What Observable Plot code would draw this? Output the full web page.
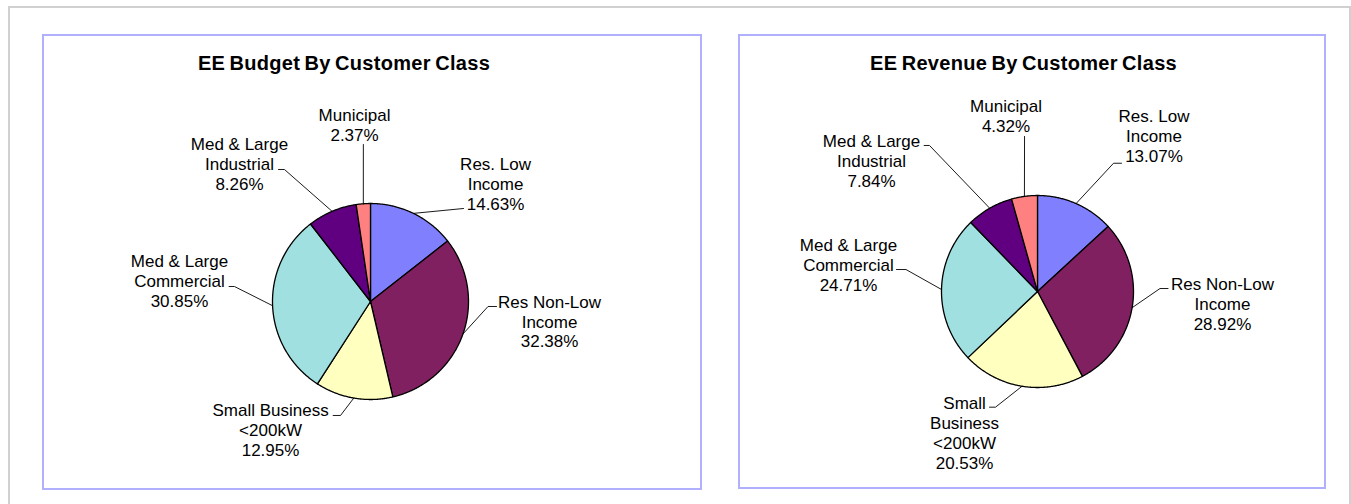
<!DOCTYPE html>
<html><head><meta charset="utf-8">
<script src="https://cdn.jsdelivr.net/npm/d3@7"></script>
<script src="https://cdn.jsdelivr.net/npm/@observablehq/plot@0.6"></script>
<style>
body{margin:0;background:#fff;width:1351px;height:504px;overflow:hidden;position:relative;font-family:Arial,"Liberation Sans",sans-serif;}
.frame{position:absolute;left:8px;top:6px;width:1343px;height:600px;border:2px solid #d0d0d0;box-sizing:border-box;}
.box{position:absolute;border:2px solid #b0b0ff;box-sizing:border-box;background:#fff;}
.title{position:absolute;width:500px;text-align:center;font-weight:bold;font-size:20px;line-height:20px;letter-spacing:0.3px;word-spacing:-1.5px;color:#000;white-space:nowrap;}
.chart{position:absolute;}
</style></head><body>
<div class="frame"></div>
<div class="box" style="left:42px;top:34px;width:660px;height:456px"></div>
<div class="box" style="left:738px;top:34px;width:588px;height:455px"></div>
<div id="c0" class="chart"></div>
<div id="c1" class="chart"></div>
<div id="t0" class="title"></div>
<div id="t1" class="title"></div>
<script>
// ---- data ----
const categories = ["Res. Low Income", "Res Non-Low Income", "Small Business <200kW", "Med & Large Commercial", "Med & Large Industrial", "Municipal"];
const budgetValues = [14.63, 32.38, 12.95, 30.85, 8.26, 2.37];
const revenueValues = [13.07, 28.92, 20.53, 24.71, 7.84, 4.32];
const titles = ["EE Budget By Customer Class", "EE Revenue By Customer Class"];

// ---- styles / layout ----
const colors = ["#8080ff", "#802060", "#ffffc0", "#a0e0e0", "#600080", "#ff8080"];
const layouts = [
  {left: 44, top: 36, width: 654, height: 451, cx: 326, cy: 265, r: 98, titleX: 344, titleBase: 70,
   wrap: [[2,1],[2,1],[2,1],[3,1],[3,1],[1]],
   labels: [[1.276,1.208],[1.827,-0.2],[-1.02,-1.312],[-1.949,0.218],[-1.337,1.412],[-0.163,1.81]],
   leaders: [[[0.949,0.949]], [[1.286,-0.051],[1.199,-0.051]], [[-0.381,-1.163],[-0.306,-1.163]],
             [[-1.443,0.153],[-1.388,0.153]], [[-0.939,1.347],[-0.878,1.347]], [[-0.073,1.602]]]},
  {left: 740, top: 36, width: 582, height: 450, cx: 297, cy: 255, r: 96, titleX: 1023.5, titleBase: 70,
   wrap: [[2,1],[2,1],[1,1,1],[3,1],[3,1],[1]],
   labels: [[1.2135,1.622],[1.927,-0.121],[-0.760,-1.465],[-1.969,0.285],[-1.729,1.361],[-0.328,1.833]],
   leaders: [[[0.875,1.336],[0.792,1.336]], [[1.360,0.031],[1.276,0.031]], [[-0.5,-1.205],[-0.4375,-1.205]],
             [[-1.469,0.229],[-1.370,0.229]], [[-1.181,1.521],[-1.125,1.521]], [[-0.135,1.615]]]}
];

function wrapText(name, counts) {
  const words = name.split(" ");
  const lines = []; let k = 0;
  for (const c of counts) { lines.push(words.slice(k, k + c).join(" ")); k += c; }
  return lines.join("\n");
}

function drawPie(values, L, target) {
  const arcs = d3.pie().sort(null).value(d => d)(values);
  const marks = [];
  arcs.forEach((p, i) => {
    const n = Math.max(2, Math.ceil((p.endAngle - p.startAngle) / (Math.PI / 360)));
    const pts = [{x: 0, y: 0}];
    for (let j = 0; j <= n; j++) {
      const a = p.startAngle + (p.endAngle - p.startAngle) * j / n;
      pts.push({x: Math.sin(a), y: Math.cos(a)});
    }
    pts.push({x: 0, y: 0});
    marks.push(Plot.line(pts, {x: "x", y: "y", fill: colors[i], stroke: "#000", strokeWidth: 1.3, strokeLinejoin: "round"}));
  });
  const leaderPts = [];
  arcs.forEach((p, i) => {
    L.leaders[i].forEach(([x, y]) => leaderPts.push({k: i, x, y}));
    const mid = (p.startAngle + p.endAngle) / 2;
    leaderPts.push({k: i, x: Math.sin(mid), y: Math.cos(mid)});
  });
  marks.push(Plot.line(leaderPts, {x: "x", y: "y", z: "k", stroke: "#000", strokeWidth: 0.9}));
  const labelData = categories.map((c, i) => ({
    x: L.labels[i][0], y: L.labels[i][1],
    text: wrapText(c, L.wrap[i]) + "\n" + values[i].toFixed(2) + "%"
  }));
  marks.push(Plot.text(labelData, {x: "x", y: "y", text: "text", fontSize: 17, lineHeight: 20 / 17,
    fontFamily: "Arial, 'Liberation Sans', sans-serif", fill: "#000", textAnchor: "middle"}));
  const chart = Plot.plot({
    width: L.width, height: L.height, margin: 0,
    x: {domain: [-L.cx / L.r, (L.width - L.cx) / L.r], axis: null},
    y: {domain: [(L.cy - L.height) / L.r, L.cy / L.r], axis: null},
    style: {background: "transparent", overflow: "visible"},
    marks
  });
  const el = document.getElementById(target);
  el.style.left = L.left + "px"; el.style.top = L.top + "px";
  el.appendChild(chart);
}

drawPie(budgetValues, layouts[0], "c0");
drawPie(revenueValues, layouts[1], "c1");

[0, 1].forEach(i => {
  const t = document.getElementById("t" + i);
  t.textContent = titles[i];
  t.style.left = (layouts[i].titleX - 250) + "px";
  t.style.top = (layouts[i].titleBase - 17) + "px";
});
</script>
</body></html>
